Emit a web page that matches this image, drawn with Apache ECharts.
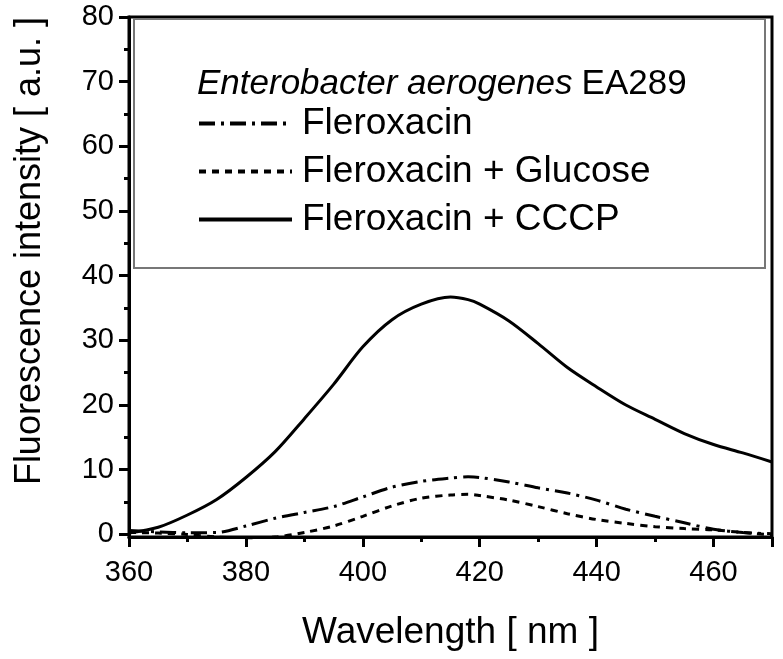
<!DOCTYPE html>
<html><head><meta charset="utf-8">
<script src="https://cdn.jsdelivr.net/npm/echarts@6/dist/echarts.min.js"></script>
<style>html,body{margin:0;padding:0;background:#fff}#c{width:783px;height:659px}</style>
</head><body><div id="c"></div>
<script>
const wavelengths = [360,365,370,375,380,385,390,395,400,405,410,415,418,420,425,430,435,440,445,450,455,460,465,470];
const fleroxacin = [0.6,0.4,0.25,0.3,1.3,2.5,3.4,4.3,5.8,7.3,8.2,8.7,8.9,8.8,8.1,7.2,6.4,5.3,3.9,2.8,1.8,0.8,0.3,0.1];
const fleroxacinGlucose = [0.3,0.2,0.0,-0.4,-0.5,-0.4,0.3,1.3,2.8,4.4,5.6,6.1,6.2,6.0,5.3,4.3,3.2,2.3,1.7,1.2,0.9,0.7,0.3,-0.1];
const fleroxacinCCCP = [0.2,1.1,3.0,5.4,8.8,12.8,17.9,23.2,29.0,33.2,35.6,36.7,36.3,35.6,33.0,29.5,25.8,22.8,20.0,17.8,15.6,13.9,12.6,11.2];
const seriesNames = ['Fleroxacin','Fleroxacin + Glucose','Fleroxacin + CCCP'];
const yMajor = [0,10,20,30,40,50,60,70,80];
const yMinor = [5,15,25,35,45,55,65,75];
const xTitle = 'Wavelength [ nm ]';
const yTitle = 'Fluorescence intensity [ a.u. ]';

const pair = (arr) => wavelengths.map((w,i)=>[w,arr[i]]);
const font = 'Liberation Sans, Arial, sans-serif';
const chart = echarts.init(document.getElementById('c'), null, {renderer:'canvas'});
const lineBase = {type:'line', smooth:0.3, showSymbol:false, symbol:'none', clip:false, silent:true};
chart.setOption({
  animation:false,
  backgroundColor:'#fff',
  grid:{left:129, top:17, right:11, bottom:122, show:true, borderColor:'#000', borderWidth:3, backgroundColor:'transparent'},
  title:{
    text:'{i|Enterobacter aerogenes} {n|EA289}',
    left:197, top:67, padding:0,
    textStyle:{rich:{
      i:{fontStyle:'italic', fontWeight:'normal', fontSize:35, fontFamily:font, color:'#000'},
      n:{fontWeight:'normal', fontSize:35, fontFamily:font, color:'#000', padding:[0,0,0,4]}
    }}
  },
  legend:{
    orient:'vertical', left:197, top:105, padding:0, itemWidth:93, itemHeight:12, itemGap:11,
    itemStyle:{opacity:0},
    lineStyle:{width:4},
    textStyle:{fontSize:37, lineHeight:37, fontFamily:font, color:'#000', padding:[0,0,0,5]},
    data:seriesNames
  },
  xAxis:{
    type:'value', min:360, max:470, interval:20,
    name:xTitle, nameLocation:'middle', nameGap:77,
    nameTextStyle:{fontSize:37, fontFamily:font, color:'#000'},
    axisLine:{onZero:false, lineStyle:{color:'#000', width:3}},
    axisTick:{length:10, lineStyle:{width:3, color:'#000'}},
    minorTick:{show:true, splitNumber:2, length:5, lineStyle:{width:3, color:'#000'}},
    axisLabel:{fontSize:29, fontFamily:font, color:'#000', margin:21, showMaxLabel:false},
    splitLine:{show:false}
  },
  yAxis:[{
    type:'value', min:-0.4, max:80,
    axisLine:{lineStyle:{color:'#000', width:3}},
    axisTick:{length:10, customValues:yMajor, lineStyle:{width:3, color:'#000'}},
    axisLabel:{fontSize:29, fontFamily:font, color:'#000', margin:15, customValues:yMajor},
    splitLine:{show:false}
  },{
    type:'value', min:-0.4, max:80, position:'left',
    axisLine:{show:false},
    axisTick:{length:5, customValues:yMinor, lineStyle:{width:3, color:'#000'}},
    axisLabel:{show:false, customValues:yMinor},
    splitLine:{show:false}
  }],
  graphic:[
    {type:'rect', shape:{x:134, y:19, width:631, height:249}, style:{fill:'none', stroke:'#777', lineWidth:2}, silent:true},
    {type:'text', x:30, y:251, rotation:Math.PI/2, silent:true,
     style:{text:yTitle, fontSize:36, fontFamily:font, fill:'#000', align:'center', verticalAlign:'middle'}}
  ],
  series:[
    Object.assign({}, lineBase, {name:seriesNames[0], data:pair(fleroxacin), lineStyle:{color:'#000', width:3, type:[16,6,3,6]}, itemStyle:{color:'#000'}}),
    Object.assign({}, lineBase, {name:seriesNames[1], data:pair(fleroxacinGlucose), lineStyle:{color:'#000', width:3, type:[7,6]}, itemStyle:{color:'#000'}}),
    Object.assign({}, lineBase, {name:seriesNames[2], data:pair(fleroxacinCCCP), lineStyle:{color:'#000', width:3, type:'solid'}, itemStyle:{color:'#000'}})
  ]
});
</script></body></html>
